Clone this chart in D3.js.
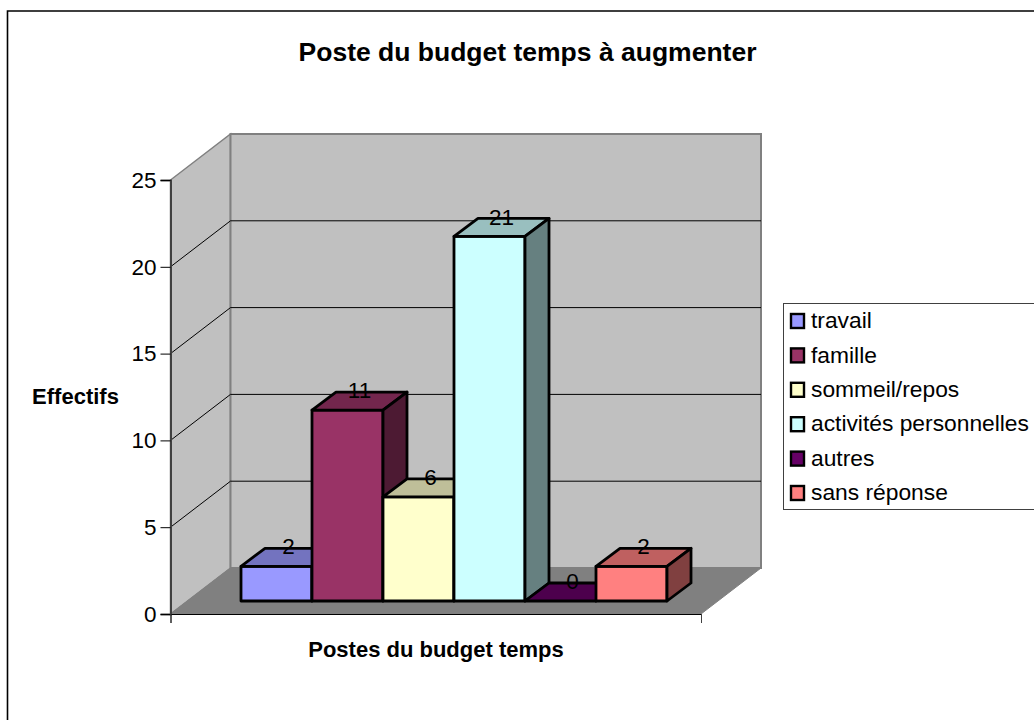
<!DOCTYPE html>
<html><head><meta charset="utf-8">
<script src="https://cdn.jsdelivr.net/npm/d3@7"></script>
<style>html,body{margin:0;padding:0;background:#fff}svg{display:block}text{font-family:"Liberation Sans",Arial,sans-serif;fill:#000}</style>
</head><body><div id="c"></div>
<script>
const categories = ["travail","famille","sommeil/repos","activités personnelles","autres","sans réponse"];
const values = [2,11,6,21,0,2];
const colors = ["#9999FF","#993366","#FFFFCC","#CCFFFF","#660066","#FF8080"];
const yTicks = [0,5,10,15,20,25];
const titleText = "Poste du budget temps à augmenter";
const yTitle = "Effectifs";
const xTitle = "Postes du budget temps";

const W=1034,H=720;
const svg=d3.select("#c").append("svg").attr("width",W).attr("height",H);
const line=d3.line();
const x0=170.5,x1=701,yBase=614,wallDx=60,wallDy=-46;
const y=d3.scaleLinear().domain([0,25]).range([yBase,180]);
const x=d3.scaleBand().domain(categories).range([241,667]);
const barBase=601,barDx=24,barDy=-18;
const h=v=>yBase-y(v);

svg.append("path").attr("d",line([[7.5,H],[7.5,11],[W,11]])).attr("fill","none").attr("stroke","#000").attr("stroke-width",1.6);

const wallTop=y(25), wallBot=y(0);
const side=[[x0,wallBot],[x0,wallTop],[x0+wallDx,wallTop+wallDy],[x0+wallDx,wallBot+wallDy]];
const back=[[x0+wallDx,wallTop+wallDy],[x1+wallDx,wallTop+wallDy],[x1+wallDx,wallBot+wallDy],[x0+wallDx,wallBot+wallDy]];
const floor=[[x0,wallBot],[x0+wallDx,wallBot+wallDy],[x1+wallDx,wallBot+wallDy],[x1,wallBot]];
svg.append("path").attr("d",line(side)+"Z").attr("fill","#C0C0C0").attr("stroke","#808080").attr("stroke-width",1.5);
svg.append("path").attr("d",line(back)+"Z").attr("fill","#C0C0C0").attr("stroke","#808080").attr("stroke-width",2);
svg.append("path").attr("d",line(floor)+"Z").attr("fill","#808080").attr("stroke","#808080").attr("stroke-width",1);

yTicks.filter(t=>t>0&&t<25).forEach(t=>{
  svg.append("path").attr("d",line([[x0,y(t)],[x0+wallDx,y(t)+wallDy],[x1+wallDx,y(t)+wallDy]]))
    .attr("fill","none").attr("stroke","#000").attr("stroke-width",1);
});

const axisY=d3.axisLeft(y).tickValues(yTicks).tickSize(10).tickPadding(4);
const gy=svg.append("g").attr("transform",`translate(${x0},0)`).call(axisY);
gy.selectAll("text").style("font-size","22.5px").attr("dy","0.32em");
gy.selectAll("line").attr("stroke","#000");
gy.select(".domain").attr("stroke","#404040").attr("stroke-width",2);
const axisX=d3.axisBottom(d3.scaleLinear().domain([0,1]).range([x0,x1])).tickValues([0,1]).tickSize(9).tickFormat("");
const gx=svg.append("g").attr("transform",`translate(0,${yBase})`).call(axisX);
gx.selectAll("line").attr("stroke","#404040");
gx.select(".domain").attr("stroke","#000");

const shade=(c,k)=>{const r=d3.rgb(c);return d3.rgb(r.r*k,r.g*k,r.b*k).formatHex();};
const bw=x.bandwidth();
const bars=svg.append("g").selectAll("g").data(categories).join("g");
bars.each(function(c,i){
  const g=d3.select(this),l=x(c),r=l+bw,top=barBase-h(values[i]);
  const col=colors[i];
  const s={stroke:"#000","stroke-width":2.8,"stroke-linejoin":"round"};
  const add=(pts,fill)=>{const p=g.append("path").attr("d",line(pts)+"Z").attr("fill",fill);for(const k in s)p.attr(k,s[k]);};
  if(values[i]>0) add([[l,barBase],[l,top],[r,top],[r,barBase]],col);
  add([[l,top],[l+barDx,top+barDy],[r+barDx,top+barDy],[r,top]],shade(col,0.75));
  add([[r,barBase],[r,top],[r+barDx,top+barDy],[r+barDx,barBase+barDy]],shade(col,0.5));
});
svg.append("g").selectAll("text").data(categories).join("text")
  .attr("x",c=>x(c)+bw/2+barDx/2).attr("y",(c,i)=>barBase-h(values[i])+barDy-2)
  .attr("dy","0.36em").attr("text-anchor","middle").style("font-size","22.5px")
  .text((c,i)=>values[i]);

svg.append("text").attr("x",527.5).attr("y",61).attr("text-anchor","middle").style("font-size","26.5px").style("font-weight","bold").text(titleText);
svg.append("text").attr("x",75.5).attr("y",404).attr("text-anchor","middle").style("font-size","22px").style("font-weight","bold").text(yTitle);
svg.append("text").attr("x",436).attr("y",657).attr("text-anchor","middle").style("font-size","22px").style("font-weight","bold").text(xTitle);

svg.append("rect").attr("x",783.5).attr("y",303.5).attr("width",W).attr("height",206).attr("fill","#fff").attr("stroke","#404040").attr("stroke-width",1);
const rowY=d3.scalePoint().domain(categories).range([321,493]);
const lg=svg.append("g").selectAll("g").data(categories).join("g").attr("transform",c=>`translate(0,${rowY(c)})`);
lg.append("rect").attr("x",791).attr("y",-7).attr("width",13).attr("height",14).attr("fill",(c,i)=>colors[i]).attr("stroke","#000").attr("stroke-width",2.4);
lg.append("text").attr("x",811).attr("y",-1).attr("dy","0.36em").style("font-size","22.8px").text(c=>c);
</script></body></html>
